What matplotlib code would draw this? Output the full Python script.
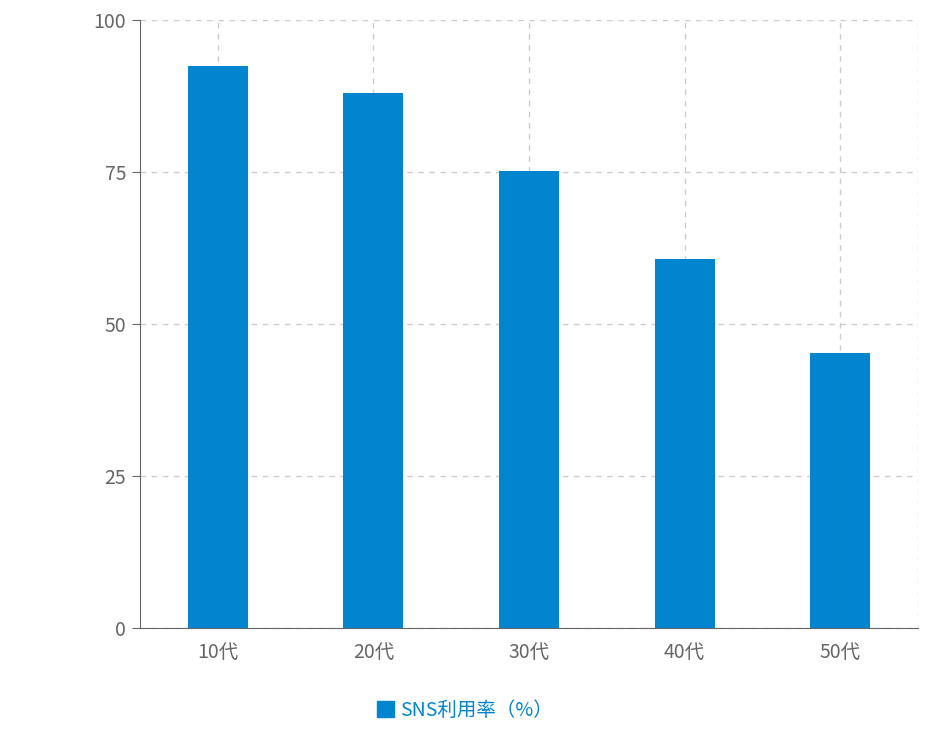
import matplotlib
matplotlib.use("Agg")
import matplotlib.pyplot as plt
from matplotlib.patches import Patch

plt.rcParams['font.family'] = ['Noto Sans CJK JP', 'DejaVu Sans']

categories = ["10代", "20代", "30代", "40代", "50代"]
values = [92.4, 88.0, 75.2, 60.7, 45.2]
series_name = "SNS利用率（%）"
color = "#0284cf"

fig = plt.figure(figsize=(9.4, 7.52), dpi=100)
ax = fig.add_axes([140/940, 1-628/752, 778/940, 608/752])
x = list(range(len(categories)))
ax.bar(x, values, width=0.385, color=color, zorder=3)
ax.set_xlim(-0.5, len(categories) - 0.5)
ax.set_ylim(0, 100)
ax.set_yticks([0, 25, 50, 75, 100])
ax.set_xticks(x)
ax.set_xticklabels(categories)
ax.grid(True, axis='both', linestyle=(0, (4, 4)), color='#cccccc', linewidth=1, zorder=0)
for s in ['top', 'right']:
    ax.spines[s].set_visible(False)
ax.axvline(len(categories) - 0.5, linestyle=(0, (4, 4)), color='#cccccc', linewidth=1, zorder=0)
ax.spines['left'].set_color('#666666')
ax.spines['bottom'].set_color('#666666')
ax.tick_params(axis='y', length=6, color='#666666', labelcolor='#666666', labelsize=14, pad=4)
ax.tick_params(axis='x', length=0, labelcolor='#666666', labelsize=14, pad=10)
fig.legend(handles=[Patch(color=color)], labels=[series_name], loc='center',
           bbox_to_anchor=(465/940, 1-710/752), frameon=False, fontsize=14,
           handlelength=0.9, handleheight=0.9, handletextpad=0.3, labelcolor=color)
fig.savefig("out.png")
